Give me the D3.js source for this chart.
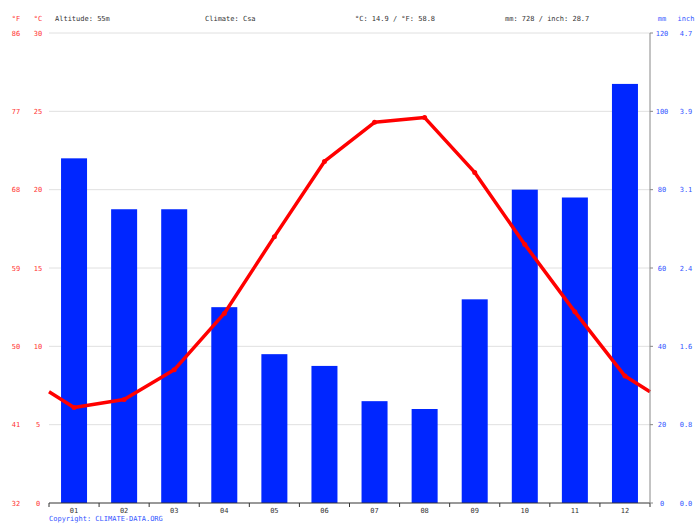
<!DOCTYPE html>
<html>
<head>
<meta charset="utf-8">
<script src="https://d3js.org/d3.v7.min.js"></script>
<style>
  body { margin: 0; background: #fff; }
  text { font-family: "DejaVu Sans Mono", monospace; font-size: 7px; }
</style>
</head>
<body>
<div id="chart"></div>
<script>
const months = ["01","02","03","04","05","06","07","08","09","10","11","12"];
const precip = [88, 75, 75, 50, 38, 35, 26, 24, 52, 80, 78, 107];
const temp = [6.1, 6.6, 8.5, 12.1, 17.0, 21.8, 24.3, 24.6, 21.1, 16.5, 12.2, 8.1];
const tempEdge = 7.1; // line continues to plot edges
const cTicks = [0, 5, 10, 15, 20, 25, 30];
const fTicks = ["32", "41", "50", "59", "68", "77", "86"];
const mmTicks = [0, 20, 40, 60, 80, 100, 120];
const inchTicks = ["0.0", "0.8", "1.6", "2.4", "3.1", "3.9", "4.7"];

const W = 700, H = 525;
const pLeft = 49, pRight = 650, pTop = 33, pBottom = 503;
const svg = d3.select("#chart").append("svg").attr("width", W).attr("height", H);

const x = d3.scaleBand().domain(months).range([pLeft, pRight]);
const yC = d3.scaleLinear().domain([0, 30]).range([pBottom, pTop]);
const yMM = d3.scaleLinear().domain([0, 120]).range([pBottom, pTop]);

// grid
svg.selectAll(".grid").data(cTicks.slice(1)).enter().append("line")
  .attr("x1", pLeft).attr("x2", pRight)
  .attr("y1", d => yC(d)).attr("y2", d => yC(d))
  .attr("stroke", "#e0e0e0").attr("stroke-width", 1);

// bars
const bw = 26;
svg.selectAll(".bar").data(precip).enter().append("rect")
  .attr("x", (d, i) => x(months[i]) + x.bandwidth() / 2 - bw / 2)
  .attr("width", bw)
  .attr("y", d => yMM(d))
  .attr("height", d => yMM(0) - yMM(d))
  .attr("fill", "#0026ff");

// temperature line
const pts = [[pLeft, tempEdge]].concat(temp.map((t, i) => [x(months[i]) + x.bandwidth() / 2, t]), [[pRight, tempEdge]]);
svg.append("path").datum(pts)
  .attr("d", d3.line().x(d => d[0]).y(d => yC(d[1])))
  .attr("fill", "none").attr("stroke", "#ff0000").attr("stroke-width", 3.5)
  .attr("stroke-linejoin", "round");
svg.selectAll(".dot").data(temp).enter().append("circle")
  .attr("cx", (d, i) => x(months[i]) + x.bandwidth() / 2)
  .attr("cy", d => yC(d)).attr("r", 2.5).attr("fill", "#ff0000");

// axes lines
svg.append("line").attr("x1", pLeft).attr("x2", pRight).attr("y1", pBottom).attr("y2", pBottom)
  .attr("stroke", "#333");
svg.append("line").attr("x1", pRight).attr("x2", pRight).attr("y1", pTop).attr("y2", pBottom)
  .attr("stroke", "#888");
// bottom ticks between months
svg.selectAll(".xt").data(d3.range(13)).enter().append("line")
  .attr("x1", i => pLeft + i * x.step()).attr("x2", i => pLeft + i * x.step())
  .attr("y1", pBottom).attr("y2", pBottom + 4).attr("stroke", "#333");
svg.selectAll(".xl").data(months).enter().append("text")
  .attr("x", d => x(d) + x.bandwidth() / 2).attr("y", pBottom + 10)
  .attr("text-anchor", "middle").attr("fill", "#333").text(d => d);
// right ticks
svg.selectAll(".rt").data(mmTicks).enter().append("line")
  .attr("x1", pRight).attr("x2", pRight + 3)
  .attr("y1", d => yMM(d)).attr("y2", d => yMM(d)).attr("stroke", "#888");

// side labels
svg.selectAll(".cl").data(cTicks).enter().append("text")
  .attr("x", 38).attr("y", d => yC(d) + 2.5).attr("text-anchor", "middle")
  .attr("fill", "#ff3333").text(d => d);
svg.selectAll(".fl").data(fTicks).enter().append("text")
  .attr("x", 16).attr("y", (d, i) => yC(cTicks[i]) + 2.5).attr("text-anchor", "middle")
  .attr("fill", "#ff3333").text(d => d);
svg.selectAll(".ml").data(mmTicks).enter().append("text")
  .attr("x", 662).attr("y", d => yMM(d) + 2.5).attr("text-anchor", "middle")
  .attr("fill", "#3355ff").text(d => d);
svg.selectAll(".il").data(inchTicks).enter().append("text")
  .attr("x", 686).attr("y", (d, i) => yMM(mmTicks[i]) + 2.5).attr("text-anchor", "middle")
  .attr("fill", "#3355ff").text(d => d);

// header
const hy = 21;
svg.append("text").attr("x", 16).attr("y", hy).attr("text-anchor", "middle").attr("fill", "#ff3333").text("°F");
svg.append("text").attr("x", 38).attr("y", hy).attr("text-anchor", "middle").attr("fill", "#ff3333").text("°C");
svg.append("text").attr("x", 55).attr("y", hy).attr("fill", "#333").text("Altitude: 55m");
svg.append("text").attr("x", 205).attr("y", hy).attr("fill", "#333").text("Climate: Csa");
svg.append("text").attr("x", 355).attr("y", hy).attr("fill", "#333").text("°C: 14.9 / °F: 58.8");
svg.append("text").attr("x", 505).attr("y", hy).attr("fill", "#333").text("mm: 728 / inch: 28.7");
svg.append("text").attr("x", 662).attr("y", hy).attr("text-anchor", "middle").attr("fill", "#3355ff").text("mm");
svg.append("text").attr("x", 686).attr("y", hy).attr("text-anchor", "middle").attr("fill", "#3355ff").text("inch");
svg.append("text").attr("x", 49).attr("y", 521).attr("fill", "#3355ff").text("Copyright: CLIMATE-DATA.ORG");
</script>
</body>
</html>
